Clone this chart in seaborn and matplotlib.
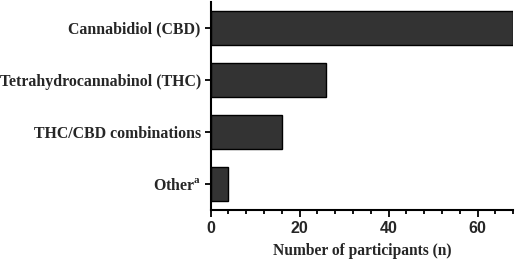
import matplotlib
matplotlib.use("Agg")
import matplotlib.pyplot as plt
import seaborn as sns
import pandas as pd
from matplotlib.ticker import MultipleLocator

categories = ["Cannabidiol (CBD)", "Tetrahydrocannabinol (THC)", "THC/CBD combinations", "Other"]
tick_labels = ["Cannabidiol (CBD)", "Tetrahydrocannabinol (THC)", "THC/CBD combinations", r"Other$^{\mathbf{a}}$"]
counts = [68, 26, 16, 4]
xlabel = "Number of participants (n)"

sns.set_style("ticks")
plt.rcParams["mathtext.fontset"] = "custom"
plt.rcParams["mathtext.bf"] = "Liberation Serif:bold"
plt.rcParams["mathtext.rm"] = "Liberation Serif:bold"

df = pd.DataFrame({"cat": categories, "n": counts})

fig = plt.figure(figsize=(5.29, 2.62), dpi=100)
ax = fig.add_axes([0.398, 0.198, 0.572, 0.795])
sns.barplot(data=df, x="n", y="cat", orient="h", color="#333333", saturation=1,
            edgecolor="black", linewidth=1.0, width=0.65, ax=ax)

ax.set_xlim(0, 68)
ax.set_ylim(3.5, -0.5)
ax.xaxis.set_major_locator(MultipleLocator(20))
ax.xaxis.set_minor_locator(MultipleLocator(4))
ax.set_yticks(range(len(categories)))
ax.set_yticklabels(tick_labels, family="Liberation Serif", fontweight="bold", fontsize=11.4)
for lab in ax.get_xticklabels():
    lab.set_family("Liberation Sans")
    lab.set_fontweight("bold")
    lab.set_fontsize(11.5)
ax.set_xlabel(xlabel, family="Liberation Serif", fontweight="bold", fontsize=11.2, labelpad=5)
ax.set_ylabel("")

for s in ["top", "right"]:
    ax.spines[s].set_visible(False)
for s in ["left", "bottom"]:
    ax.spines[s].set_linewidth(1.5)
    ax.spines[s].set_color("black")
ax.tick_params(axis="both", which="major", width=1.3, length=5, color="black", pad=3)
ax.tick_params(axis="x", which="minor", width=1.3, length=3, color="black")
ax.tick_params(axis="y", which="major", length=4)

fig.savefig("out.png", dpi=100)
